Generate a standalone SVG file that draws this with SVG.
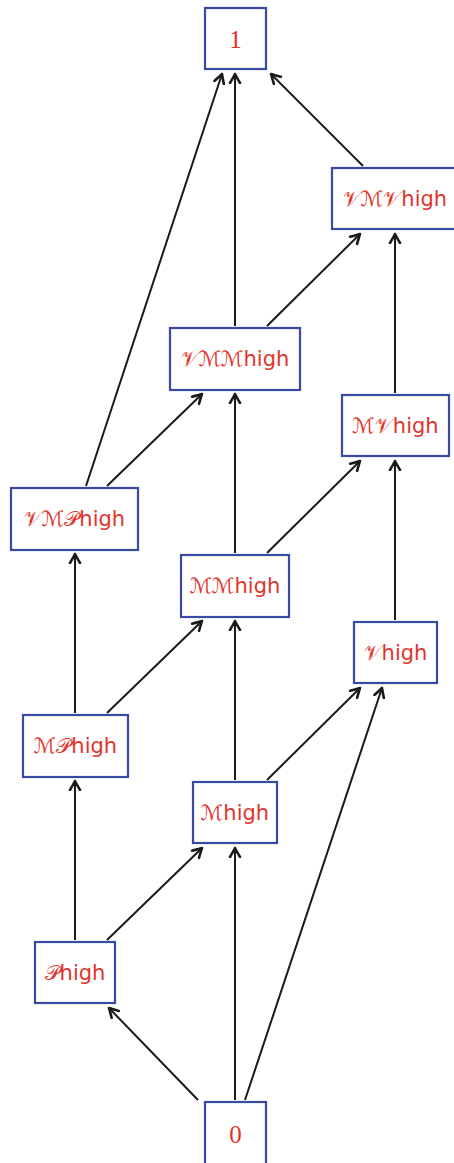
<svg xmlns="http://www.w3.org/2000/svg" width="454" height="1163" viewBox="0 0 454 1163">
<style>
.box{fill:#fff;stroke:#3a48a6;stroke-width:2.2}
.t{fill:#e2332b;font-size:21px;text-anchor:middle;dominant-baseline:central}
.num{font-family:"Liberation Serif",serif;font-size:25px}
.h{font-family:"DejaVu Sans","Liberation Sans",sans-serif}
.s{font-family:"DejaVu Serif","DejaVu Sans","Noto Sans",serif}
.e{stroke:#1a1a1a;stroke-width:2;fill:none;marker-end:url(#a)}
</style>
<defs>
<marker id="a" markerUnits="userSpaceOnUse" markerWidth="14" markerHeight="14" viewBox="-10 -7 14 14" refX="0" refY="0" orient="auto">
<path d="M-9,-5 Q-3,-1.5 0,0 Q-3,1.5 -9,5" fill="none" stroke="#1a1a1a" stroke-width="2.6" stroke-linecap="round" stroke-linejoin="round"/>
</marker>
</defs>
<g id="connectors">
<line class="e" x1="198" y1="1100" x2="109" y2="1008"/>
<line class="e" x1="235" y1="1100" x2="235" y2="848"/>
<line class="e" x1="245" y1="1100" x2="382" y2="688"/>
<line class="e" x1="75" y1="940" x2="75" y2="781"/>
<line class="e" x1="107" y1="940" x2="202" y2="848"/>
<line class="e" x1="235" y1="780" x2="235" y2="621"/>
<line class="e" x1="267" y1="780" x2="360" y2="688"/>
<line class="e" x1="75" y1="713" x2="75" y2="554"/>
<line class="e" x1="107" y1="713" x2="202" y2="621"/>
<line class="e" x1="395" y1="620" x2="395" y2="461"/>
<line class="e" x1="267" y1="553" x2="360" y2="461"/>
<line class="e" x1="235" y1="553" x2="235" y2="394"/>
<line class="e" x1="107" y1="486" x2="202" y2="394"/>
<line class="e" x1="86" y1="486" x2="222" y2="74"/>
<line class="e" x1="395" y1="393" x2="395" y2="234"/>
<line class="e" x1="267" y1="326" x2="360" y2="234"/>
<line class="e" x1="235" y1="326" x2="235" y2="74"/>
<line class="e" x1="363" y1="166" x2="271" y2="74"/>
</g>
<g id="n1"><rect class="box" x="205" y="8" width="61" height="61"/><text class="t num" x="235.5" y="39">1</text></g>
<g id="nVMV"><rect class="box" x="332" y="168" width="124" height="61"/><text class="t" x="395" y="199"><tspan class="s">𝒱ℳ𝒱</tspan><tspan class="h">high</tspan></text></g>
<g id="nVMM"><rect class="box" x="170" y="328" width="130" height="62"/><text class="t" x="235" y="359"><tspan class="s">𝒱ℳℳ</tspan><tspan class="h">high</tspan></text></g>
<g id="nMV"><rect class="box" x="342" y="395" width="107" height="61"/><text class="t" x="395.5" y="426"><tspan class="s">ℳ𝒱</tspan><tspan class="h">high</tspan></text></g>
<g id="nVMP"><rect class="box" x="11" y="488" width="127" height="62"/><text class="t" x="74.5" y="519"><tspan class="s">𝒱ℳ𝒫</tspan><tspan class="h">high</tspan></text></g>
<g id="nMM"><rect class="box" x="181" y="555" width="108" height="62"/><text class="t" x="235" y="586"><tspan class="s">ℳℳ</tspan><tspan class="h">high</tspan></text></g>
<g id="nV"><rect class="box" x="354" y="622" width="83" height="61"/><text class="t" x="395.5" y="653"><tspan class="s">𝒱</tspan><tspan class="h">high</tspan></text></g>
<g id="nMP"><rect class="box" x="23" y="715" width="105" height="62"/><text class="t" x="75.5" y="746"><tspan class="s">ℳ𝒫</tspan><tspan class="h">high</tspan></text></g>
<g id="nM"><rect class="box" x="193" y="782" width="84" height="61"/><text class="t" x="235" y="813"><tspan class="s">ℳ</tspan><tspan class="h">high</tspan></text></g>
<g id="nP"><rect class="box" x="35" y="942" width="80" height="61"/><text class="t" x="75" y="973"><tspan class="s">𝒫</tspan><tspan class="h">high</tspan></text></g>
<g id="n0"><rect class="box" x="205" y="1102" width="61" height="64"/><text class="t num" x="235.5" y="1134">0</text></g>
</svg>
